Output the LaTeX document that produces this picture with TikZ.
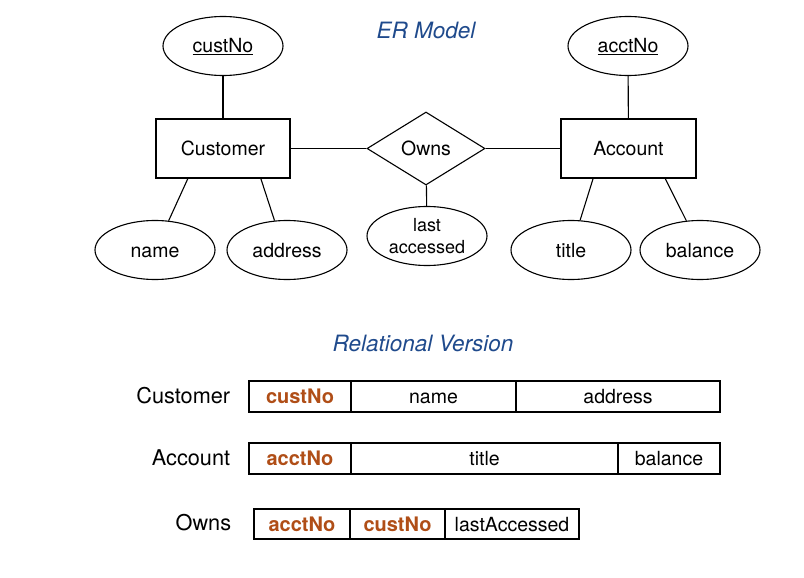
\documentclass[tikz,border=0pt]{standalone}
\usepackage{fontspec}
\setmainfont{TeX Gyre Heros}
\usetikzlibrary{shapes.geometric,calc}
\definecolor{titleBlue}{HTML}{1F4A8C}
\definecolor{keyBrown}{HTML}{B04E17}
\tikzstyle{entityStyle}=[shape = rectangle, minimum width = 134pt, minimum height = 59pt, inner sep = 0pt, draw]
\tikzstyle{attrStyle}=[shape = ellipse, minimum width = 120pt, minimum height = 59pt, inner sep = 0pt, draw]
\tikzstyle{relStyle}=[shape = diamond, aspect = 1.6, minimum width = 118pt, minimum height = 73pt, inner sep = 0pt, draw]
\tikzstyle{cellStyle}=[shape = rectangle, minimum height = 31pt, inner sep = 0pt, draw]

\begin{document}
\begin{tikzpicture}[x = 1pt, y = -1pt, line width = 1.1pt]
\tikzstyle{erFont}=[font = \fontsize{19.5}{22}\selectfont, text height = 14pt, text depth = 0pt]
\tikzstyle{titleStyle}=[font = \fontsize{22.5}{26}\selectfont\itshape, text = titleBlue]
\tikzstyle{rowLabel}=[anchor = east, font = \fontsize{21.7}{26}\selectfont, text height = 15.5pt, text depth = 0pt]
\tikzstyle{keyText}=[font = \fontsize{20}{24}\selectfont\bfseries, text = keyBrown, text height = 14.5pt, text depth = 0pt]
\useasboundingbox (0,0) rectangle (804,578);
% ER model
\node[titleStyle] (erTitle) at (426,30) {ER Model};
\node[entityStyle, erFont] (cust) at (223,148.5) {Customer};
\node[entityStyle, erFont, minimum width = 135pt] (acct) at (628.5,148.5) {Account};
\node[relStyle, erFont] (owns) at (426,148.5) {Owns};
\node[attrStyle, erFont] (custNo) at (223,46) {\underline{custNo}};
\node[attrStyle, erFont] (acctNo) at (628,46) {\underline{acctNo}};
\node[attrStyle, erFont] (name) at (155,250) {name};
\node[attrStyle, erFont] (address) at (287,250) {address};
\node[attrStyle, erFont] (title) at (571,250) {title};
\node[attrStyle, erFont] (balance) at (700,250) {balance};
\node[attrStyle, align = center, font = \fontsize{18}{22}\selectfont] (lastAcc) at (427,236) {last\\accessed};
\draw (custNo) -- (cust);
\draw (acctNo) -- (acct);
\draw (cust) -- (owns);
\draw (owns) -- (acct);
\draw (owns) -- (lastAcc);
\draw ($(cust.south west)!.24!(cust.south east)$) -- (name.65);
\draw ($(cust.south west)!.78!(cust.south east)$) -- (address.113);
\draw ($(acct.south west)!.24!(acct.south east)$) -- (title.73);
\draw ($(acct.south west)!.77!(acct.south east)$) -- (balance.115);
% relational version
\node[titleStyle] (relTitle) at (423,343) {Relational Version};
\node[rowLabel] (custRow) at (234,396) {Customer};
\node[cellStyle, keyText, minimum width = 102pt] (custKey) at (300,396.5) {custNo};
\node[cellStyle, erFont, minimum width = 165pt] (custName) at (433.5,396.5) {name};
\node[cellStyle, erFont, minimum width = 204pt] (custAddr) at (618,396.5) {address};
\node[rowLabel] (acctRow) at (234,458) {Account};
\node[cellStyle, keyText, minimum width = 102pt] (acctKey) at (300,458.5) {acctNo};
\node[cellStyle, erFont, minimum width = 267pt] (acctTitle) at (484.5,458.5) {title};
\node[cellStyle, erFont, minimum width = 102pt] (acctBal) at (669,458.5) {balance};
\node[rowLabel] (ownsRow) at (235,523) {Owns};
\node[cellStyle, keyText, minimum width = 96pt, minimum height = 30pt] (ownsAcct) at (302,524) {acctNo};
\node[cellStyle, keyText, minimum width = 95pt, minimum height = 30pt] (ownsCust) at (397.5,524) {custNo};
\node[cellStyle, erFont, minimum width = 134pt, minimum height = 30pt] (ownsLast) at (512,524) {lastAccessed};
\end{tikzpicture}
\end{document}
